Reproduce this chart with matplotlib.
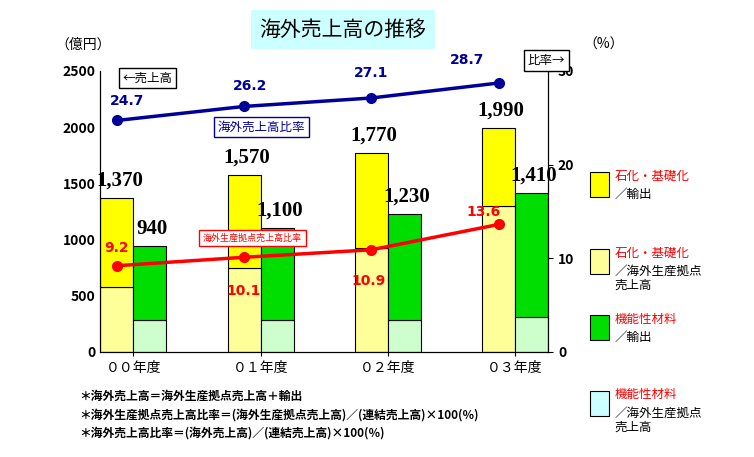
import numpy as np
import matplotlib.pyplot as plt
from matplotlib.patches import Rectangle

plt.rcParams['font.family'] = ['Noto Sans CJK JP', 'DejaVu Sans']

years = ['００年度', '０１年度', '０２年度', '０３年度']
chem_overseas = [578, 746, 924, 1300]
chem_total = [1370, 1570, 1770, 1990]
func_overseas = [284, 284, 284, 311]
func_total = [940, 1100, 1230, 1410]
ratio_overseas_sales = [24.7, 26.2, 27.1, 28.7]
ratio_overseas_prod = [9.2, 10.1, 10.9, 13.6]

chem_export = [t - o for t, o in zip(chem_total, chem_overseas)]
func_export = [t - o for t, o in zip(func_total, func_overseas)]

fig = plt.figure(figsize=(7.54, 4.57), dpi=100)
ax = fig.add_axes([0.133, 0.230, 0.594, 0.615])
x = np.arange(len(years))
w = 0.26
kw = dict(width=w, edgecolor='black', linewidth=0.8, align='edge')
ax.bar(x - w, chem_overseas, color='#ffff99', **kw)
ax.bar(x - w, chem_export, bottom=chem_overseas, color='#ffff00', **kw)
ax.bar(x, func_overseas, color='#ccffcc', **kw)
ax.bar(x, func_export, bottom=func_overseas, color='#00dd00', **kw)

lab = dict(fontsize=15, fontweight='bold', family='Liberation Serif')
for i in range(4):
    ax.text(x[i] - w / 2 + 0.02, chem_total[i] + 110, f'{chem_total[i]:,}', ha='center', **lab)
    ax.text(x[i] + w / 2 + 0.02, func_total[i] + 110, f'{func_total[i]:,}', ha='center', **lab)

ax.set_xlim(-w, 3 + w)
ax.set_ylim(0, 2500)
ax.set_yticks(range(0, 2501, 500))
ax.set_xticks(x)
ax.set_xticklabels(years, fontsize=10)
ax.tick_params(axis='y', labelsize=10, length=0)
ax.tick_params(axis='x', length=3)
ax.spines['top'].set_visible(False)
for t in ax.get_yticklabels():
    t.set_fontweight('bold')

ax2 = ax.twinx()
ax2.set_ylim(0, 30)
ax2.set_yticks([0, 10, 20, 30])
ax2.tick_params(axis='y', labelsize=10)
ax2.spines['top'].set_visible(False)
for t in ax2.get_yticklabels():
    t.set_fontweight('bold')
px = x - w / 2
ax2.plot(px, ratio_overseas_sales, color='#000099', lw=2.5, marker='o', ms=7)
ax2.plot(px, ratio_overseas_prod, color='red', lw=2.5, marker='o', ms=7)
boff = [1.6, 1.8, 2.2, 2.0]
bdx = [0.08, 0.05, 0.0, -0.25]
for i in range(4):
    ax2.text(px[i] + bdx[i], ratio_overseas_sales[i] + boff[i], f'{ratio_overseas_sales[i]}',
             color='#000099', fontsize=10, fontweight='bold', ha='center', family='DejaVu Sans')
roff = [1.5, -4.0, -3.8, 0.9]
rdx = [0, 0, -0.02, -0.12]
for i in range(4):
    ax2.text(px[i] + rdx[i], ratio_overseas_prod[i] + roff[i], f'{ratio_overseas_prod[i]}',
             color='red', fontsize=10, fontweight='bold', ha='center', family='DejaVu Sans')

ax2.text(0.36, 0.80, '海外売上高比率', transform=ax.transAxes, color='#000099', fontsize=9,
         ha='center', va='center', bbox=dict(boxstyle='square,pad=0.3', fc='white', ec='#000099'))
ax2.text(0.34, 0.405, '海外生産拠点売上高比率', transform=ax.transAxes, color='red', fontsize=6.5,
         ha='center', va='center', bbox=dict(boxstyle='square,pad=0.4', fc='white', ec='red'))
ax2.text(0.105, 0.975, '←売上高', transform=ax.transAxes, fontsize=9, ha='center', va='center',
         bbox=dict(boxstyle='square,pad=0.3', fc='white', ec='black'))
fig.text(0.725, 0.868, '比率→', fontsize=9, ha='center', va='center',
         bbox=dict(boxstyle='square,pad=0.3', fc='white', ec='black'))

fig.text(0.11, 0.893, '（億円）', fontsize=10, ha='center')
fig.text(0.80, 0.893, '（%）', fontsize=10, ha='center')
fig.text(0.455, 0.935, '海外売上高の推移', fontsize=15, ha='center', va='center',
         bbox=dict(boxstyle='square,pad=0.4', fc='#ccffff', ec='none'))

leg_items = [('#ffff00', '石化・基礎化', '／輸出'),
             ('#ffff99', '石化・基礎化', '／海外生産拠点\n売上高'),
             ('#00dd00', '機能性材料', '／輸出'),
             ('#ccffff', '機能性材料', '／海外生産拠点\n売上高')]
ys = [0.568, 0.387, 0.32, 0.20]
ys = [0.568, 0.40, 0.255, 0.09]
for (c, t1, t2), yy in zip(leg_items, ys):
    fig.patches.append(Rectangle((0.782, yy), 0.026, 0.055, transform=fig.transFigure,
                                 fc=c, ec='black', lw=0.8))
    fig.text(0.815, yy + 0.06, t1, color='red', fontsize=9, va='top')
    fig.text(0.815, yy + 0.02, t2, fontsize=9, va='top', linespacing=1.1)

notes = ['＊海外売上高＝海外生産拠点売上高＋輸出',
         '＊海外生産拠点売上高比率＝(海外生産拠点売上高)／(連結売上高)×100(％)',
         '＊海外売上高比率＝(海外売上高)／(連結売上高)×100(％)']
for i, n in enumerate(notes):
    fig.text(0.105, 0.125 - i * 0.04, n, fontsize=8.5, fontweight='bold')

fig.savefig('out.png', dpi=100)
